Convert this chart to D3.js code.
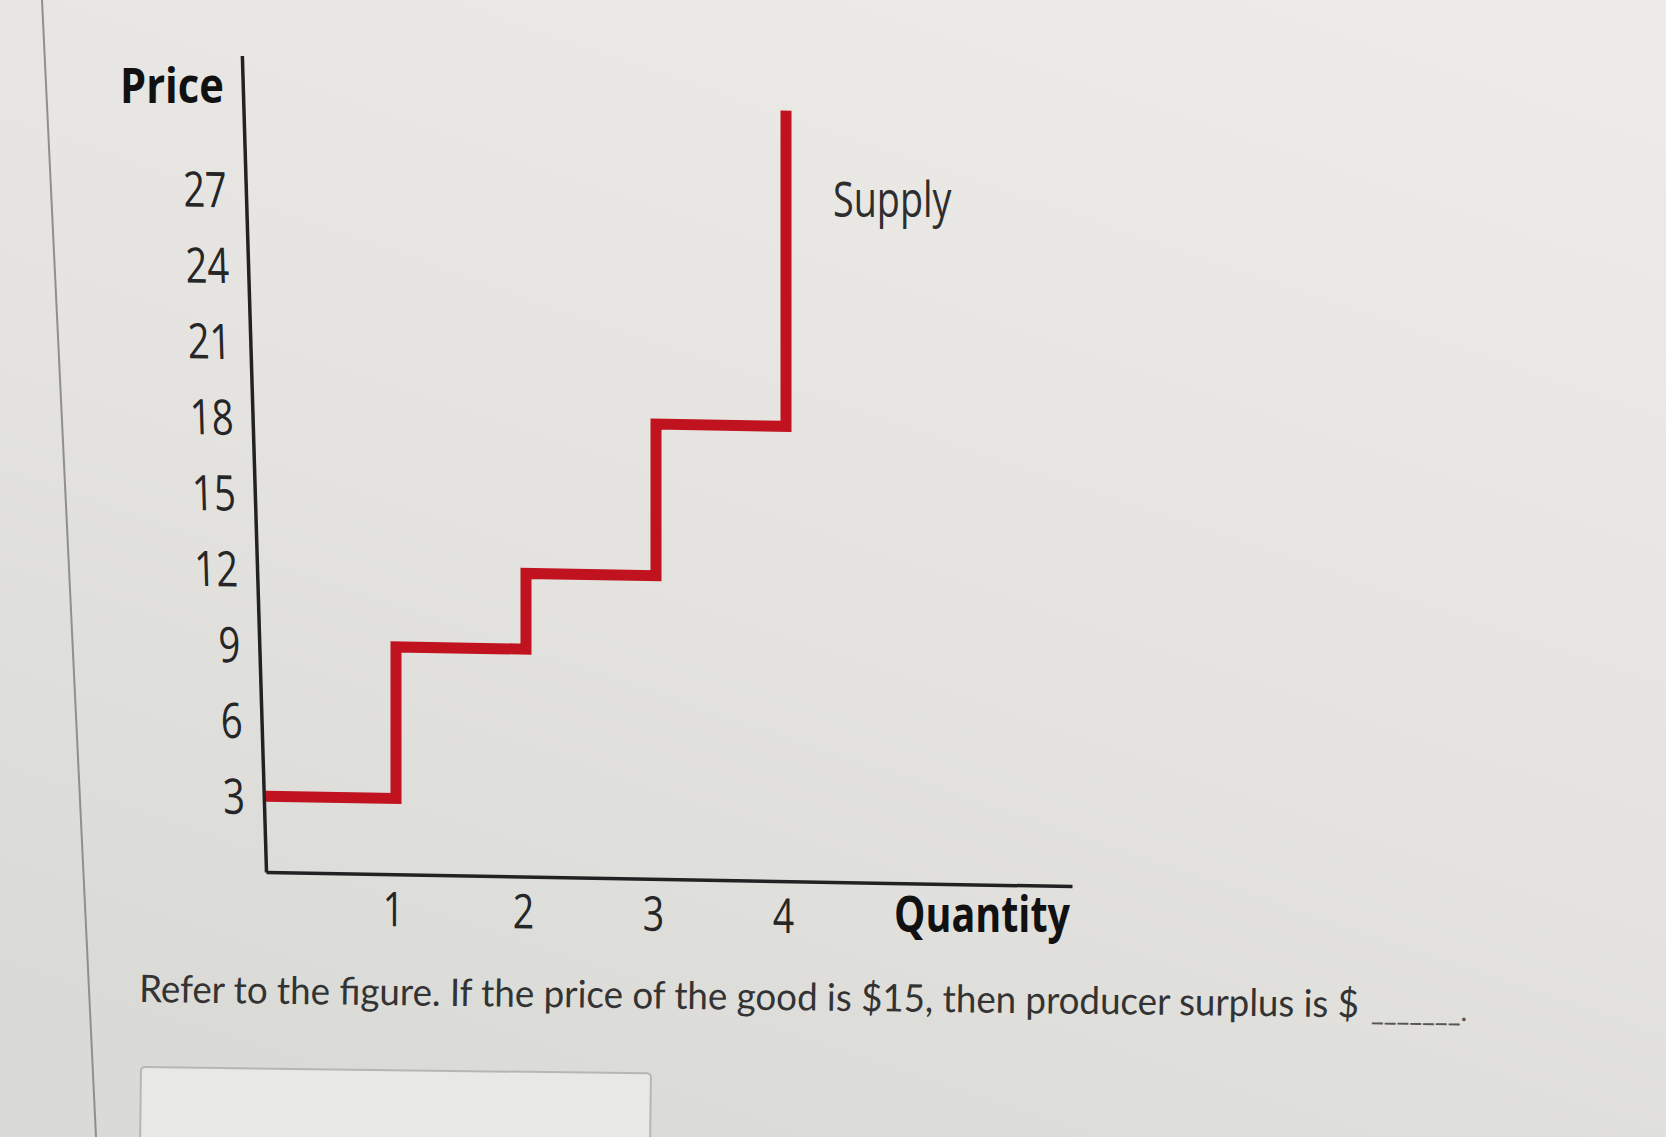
<!DOCTYPE html>
<html><head><meta charset="utf-8">
<script src="https://cdn.jsdelivr.net/npm/d3@7"></script>
<style>html,body{margin:0;padding:0;background:#e4e3df;} svg{display:block}</style>
</head><body>
<svg id="c" width="1666" height="1137"></svg>
<script>
// ---- data ----
const stepQuantities = [0, 1, 2, 3, 4];
const stepPrices = [3, 9, 12, 18, 30.5];
const priceTicks = [3, 6, 9, 12, 15, 18, 21, 24, 27];
const qtyTicks = [1, 2, 3, 4];
const yTitle = "Price";
const xTitle = "Quantity";
const curveLabel = "Supply";
const question = "Refer to the figure. If the price of the good is $15, then producer surplus is $";
const blank = "_______.";

// ---- layout ----
const W = 1666, H = 1137;
const svg = d3.select("#c");
const defs = svg.append("defs");
const bg = defs.append("linearGradient").attr("id", "bg")
  .attr("x1", "0.8").attr("y1", "0").attr("x2", "0.3").attr("y2", "1");
bg.append("stop").attr("offset", "0").attr("stop-color", "#ecebe7");
bg.append("stop").attr("offset", "0.55").attr("stop-color", "#e4e3df");
bg.append("stop").attr("offset", "1").attr("stop-color", "#dadad7");
svg.append("rect").attr("width", W).attr("height", H).attr("fill", "url(#bg)");

// page edge on the left
svg.append("line").attr("x1", 42).attr("y1", 0).attr("x2", 96).attr("y2", H)
  .attr("stroke", "#8f8f8d").attr("stroke-width", 2);

const x0 = 266, y0 = 872;
const x = d3.scaleLinear().domain([0, 6.2]).range([x0, 1072]);
const y = d3.scaleLinear().domain([0, 32.3]).range([y0, 56]);

const ky = 0.0175, kx = 0.0296;
const chart = svg.append("g")
  .attr("transform", `matrix(1,${ky},0,1,0,${-ky * x0})`);

const tickFont = "'Open Sans', sans-serif";

// y axis (slightly leaning, as in the photo)
const yAxisG = chart.append("g")
  .attr("transform", `matrix(1,0,${kx},1,${x0 - kx * y0},0)`)
  .call(d3.axisLeft(y).tickValues(priceTicks).tickSize(0).tickPadding(0).tickSizeOuter(0));
yAxisG.select(".domain").attr("stroke", "#222").attr("stroke-width", 3.5);
yAxisG.selectAll(".tick text")
  .attr("x", 0).attr("dy", "0.36em")
  .attr("transform", "translate(-19,0) scale(0.78,1)")
  .attr("text-anchor", "end")
  .attr("font-family", tickFont).attr("font-size", 49).attr("font-weight", 500)
  .attr("fill", "#262626");

// x axis
const xAxisG = chart.append("g")
  .attr("transform", `translate(0,${y0})`)
  .call(d3.axisBottom(x).tickValues(qtyTicks).tickFormat(d3.format("d"))
    .tickSize(0).tickPadding(0).tickSizeOuter(0));
xAxisG.select(".domain").attr("stroke", "#222").attr("stroke-width", 3.5);
xAxisG.selectAll(".tick text")
  .attr("y", 0).attr("dy", 0)
  .attr("transform", "translate(-3,52) scale(0.78,1)")
  .attr("text-anchor", "middle")
  .attr("font-family", tickFont).attr("font-size", 48).attr("font-weight", 500)
  .attr("fill", "#262626");

// supply step curve
const pts = stepQuantities.map((q, i) => [q, stepPrices[i]]);
chart.append("path")
  .datum(pts)
  .attr("d", d3.line().x(d => x(d[0])).y(d => y(d[1])).curve(d3.curveStepAfter))
  .attr("fill", "none").attr("stroke", "#c0121f").attr("stroke-width", 11)
  .attr("stroke-linejoin", "miter");

// titles
svg.append("text").text(yTitle)
  .attr("transform", "translate(120,103) scale(0.85,1)")
  .attr("font-family", tickFont).attr("font-weight", 700)
  .attr("font-size", 49).attr("fill", "#111");
svg.append("text").text(curveLabel)
  .attr("transform", "translate(833,217) scale(0.77,1)")
  .attr("font-family", tickFont).attr("font-size", 49).attr("font-weight", 500).attr("fill", "#2e2e2e");
svg.append("text").text(xTitle)
  .attr("transform", "translate(894,932) scale(0.79,1)")
  .attr("font-family", tickFont).attr("font-weight", 700)
  .attr("font-size", 50).attr("fill", "#111");

// question text
svg.append("text").text(question)
  .attr("transform", "translate(139,1002) rotate(0.72)")
  .attr("textLength", 1220).attr("lengthAdjust", "spacingAndGlyphs")
  .attr("font-family", "Lato, sans-serif").attr("font-size", 38).attr("fill", "#333");
svg.append("text").text(blank)
  .attr("transform", "translate(1371,1020) rotate(0.72)")
  .attr("textLength", 96).attr("lengthAdjust", "spacingAndGlyphs")
  .attr("font-family", "Lato, sans-serif").attr("font-size", 30).attr("fill", "#555");

// answer box
svg.append("rect")
  .attr("x", 141).attr("y", 1067).attr("width", 510).attr("height", 120).attr("rx", 4)
  .attr("transform", "rotate(0.72,141,1067)")
  .attr("fill", "#e8e8e6").attr("stroke", "#b6b6b4").attr("stroke-width", 2);
</script>
</body></html>
